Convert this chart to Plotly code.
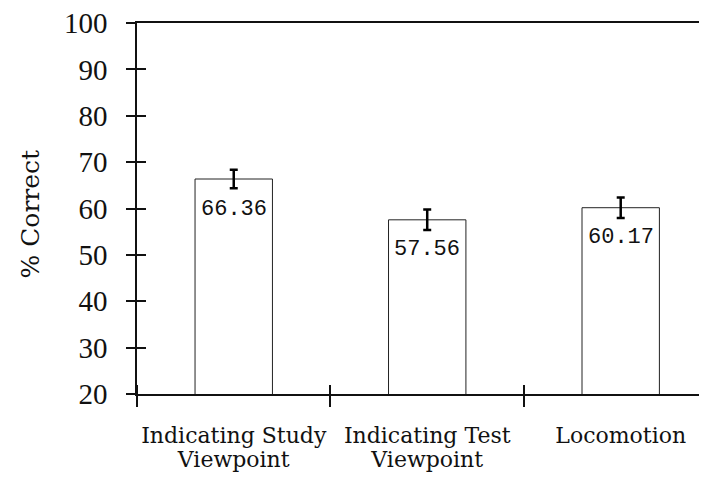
import plotly.graph_objects as go

label_line1 = ["Indicating Study", "Indicating Test", "Locomotion"]
label_line2 = ["Viewpoint", "Viewpoint", ""]
values = [66.36, 57.56, 60.17]
errors = [2.0, 2.2, 2.2]
value_labels = ["66.36", "57.56", "60.17"]
y_ticks = [20, 30, 40, 50, 60, 70, 80, 90, 100]
y_title = "% Correct"

xpos = list(range(len(label_line1)))
bounds = [i - 0.5 for i in xpos]
xrange_ = [-0.5, 2.446]
yrange_ = [20, 100]

fig = go.Figure()
fig.add_trace(go.Bar(
    x=xpos, y=values, width=0.4,
    marker=dict(color="white", line=dict(color="#222", width=1)),
    error_y=dict(type="data", array=errors, color="black", thickness=2.5, width=4),
    showlegend=False, hoverinfo="skip",
))
# invisible trace for overlay axes
fig.add_trace(go.Scatter(x=xpos, y=values, xaxis="x2", yaxis="y2",
                         mode="markers", marker=dict(opacity=0), showlegend=False, hoverinfo="skip"))

for xv, yv, lab in zip(xpos, values, value_labels):
    fig.add_annotation(x=xv, y=yv, text=lab, showarrow=False, yshift=-30,
                       yanchor="middle", xanchor="center",
                       font=dict(family="Liberation Mono", size=22, color="#111"))

serif = "Liberation Serif"
wide_serif = "DejaVu Serif"

fig.add_annotation(xref="paper", yref="paper", x=0, y=0.5, text=y_title, textangle=-90,
                   showarrow=False, xanchor="center", yanchor="middle", xshift=-107, yshift=-6,
                   font=dict(family=wide_serif, size=25, color="#111"))

fig.update_layout(
    width=699, height=479,
    margin=dict(l=129, r=0, t=15, b=93),
    plot_bgcolor="white", paper_bgcolor="white",
    xaxis=dict(range=xrange_, tickvals=xpos, ticktext=label_line1, ticks="",
               showline=True, linecolor="#111", linewidth=1.5, mirror=True,
               showgrid=False, zeroline=False, ticklabelstandoff=21, automargin=False,
               ticklabeloverflow="allow",
               tickfont=dict(family=wide_serif, size=22, color="#111"),
               minor=dict(tickvals=bounds, ticks="outside", ticklen=11, tickcolor="#111", tickwidth=1.5)),
    yaxis=dict(range=yrange_, tickvals=y_ticks, ticks="outside", ticklen=9, tickwidth=1.5,
               tickcolor="#111", showline=True, linecolor="#111", linewidth=1.5,
               showgrid=False, zeroline=False, ticklabelstandoff=13, automargin=False,
               ticklabeloverflow="allow",
               tickfont=dict(family=serif, size=29, color="#111")),
    xaxis2=dict(range=xrange_, overlaying="x", anchor="y2", showline=False, showgrid=False,
                zeroline=False, tickvals=xpos, ticktext=label_line2, ticks="",
                ticklabelstandoff=50, automargin=False, side="bottom",
                ticklabeloverflow="allow",
                tickfont=dict(family=wide_serif, size=22, color="#111"),
                minor=dict(tickvals=bounds, ticks="inside", ticklen=9, tickwidth=1.5, tickcolor="#111")),
    yaxis2=dict(range=yrange_, overlaying="y", anchor="x2", showline=False, showgrid=False,
                zeroline=False, tickvals=y_ticks, ticktext=[""] * len(y_ticks), ticks="inside",
                ticklen=9, tickwidth=1.5, tickcolor="#111", side="left", automargin=False),
)
fig.write_html("out.html")
